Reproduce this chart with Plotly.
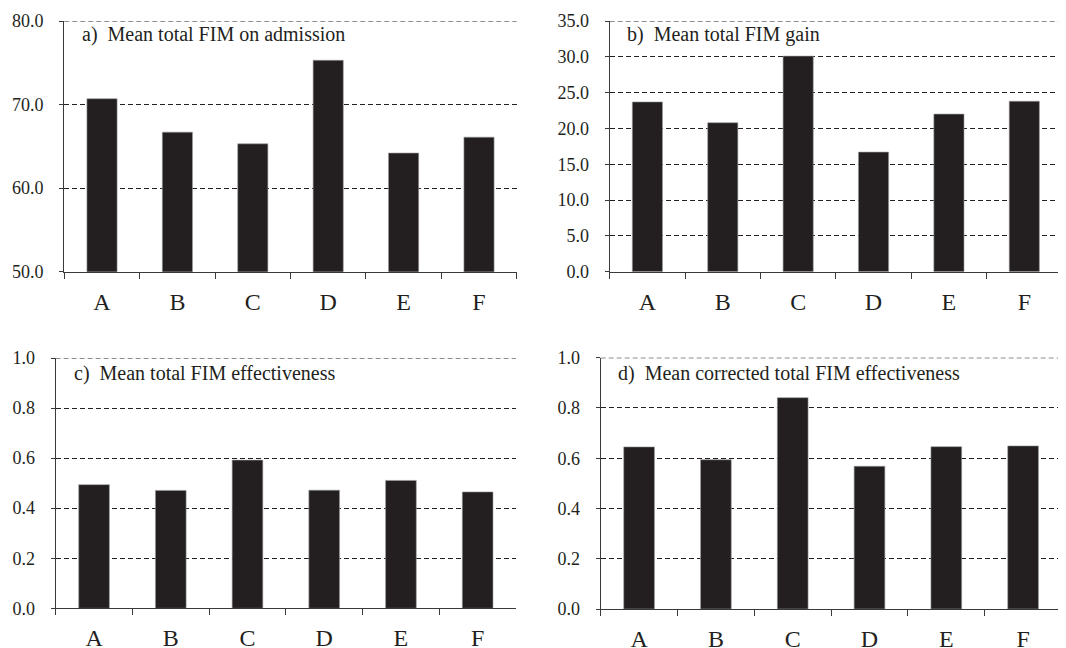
import plotly.graph_objects as go

categories = ["A", "B", "C", "D", "E", "F"]
fim_admission = [70.7, 66.7, 65.3, 75.3, 64.2, 66.1]
fim_gain = [23.7, 20.8, 30.1, 16.7, 22.0, 23.8]
fim_effectiveness = [0.494, 0.471, 0.592, 0.472, 0.511, 0.465]
fim_corrected_effectiveness = [0.645, 0.594, 0.841, 0.568, 0.646, 0.649]

panel_titles = [
    "a)  Mean total FIM on admission",
    "b)  Mean total FIM gain",
    "c)  Mean total FIM effectiveness",
    "d)  Mean corrected total FIM effectiveness",
]
y_ranges = [[50, 80], [0, 35], [0, 1.0], [0, 1.0]]
y_dticks = [10, 5, 0.2, 0.2]
y_formats = [".1f", ".1f", ".1f", ".1f"]

# The page body has an 8px margin: compensate so the figure fills the viewport.
OFF = 8
W, H = 1066 - OFF, 648 - OFF
# pixel boxes in viewport coords: (x0, x1, ytop, ybottom)
boxes = [
    (64.3, 516.7, 21, 271.7),
    (609.7, 1062, 21, 271.7),
    (55.7, 516, 358, 608.3),
    (600.7, 1061.5, 357.7, 609),
]
label_pos = [(80, 34), (624.7, 34), (71.7, 373.3), (616.3, 373.3)]

series = [fim_admission, fim_gain, fim_effectiveness, fim_corrected_effectiveness]
bar_color = "#231f20"
FONT = "Liberation Serif"


def px_x(v):
    return (v - OFF) / W


def px_y(v):
    return 1 - (v - OFF) / H


fig = go.Figure()
layout = dict(
    width=W, height=H,
    margin=dict(l=0, r=0, t=0, b=0, pad=0, autoexpand=False),
    paper_bgcolor="white", plot_bgcolor="white",
    showlegend=False,
    bargap=0.6,
    font=dict(family=FONT, color="#231f20"),
    annotations=[],
    shapes=[],
)

for i, vals in enumerate(series):
    n = i + 1
    xa = "x" if n == 1 else f"x{n}"
    ya = "y" if n == 1 else f"y{n}"
    fig.add_trace(go.Bar(
        x=categories, y=vals, xaxis=xa, yaxis=ya,
        marker=dict(color=bar_color, line=dict(color="#9a9a9a", width=0.6)),
        width=0.4,
    ))
    x0, x1, yt, yb = boxes[i]
    xkey = "xaxis" if n == 1 else f"xaxis{n}"
    ykey = "yaxis" if n == 1 else f"yaxis{n}"
    layout[xkey] = dict(
        domain=[px_x(x0), min(1.0, px_x(x1))],
        anchor=ya,
        type="category",
        range=[-0.5, 5.5],
        automargin=False,
        showline=True, linecolor="#3a3a3a", linewidth=1.3,
        ticks="outside", tickson="boundaries", ticklen=6, tickwidth=1.2,
        tickcolor="#3a3a3a",
        showgrid=False,
        tickfont=dict(family=FONT, size=24, color="#231f20"),
        ticklabelstandoff=8,
    )
    layout[ykey] = dict(
        domain=[px_y(yb), px_y(yt)],
        anchor=xa,
        range=y_ranges[i],
        dtick=y_dticks[i],
        tick0=y_ranges[i][0],
        tickformat=y_formats[i],
        automargin=False,
        showline=True, linecolor="#3a3a3a", linewidth=1.3,
        ticks="outside", ticklen=4, tickwidth=1.2, tickcolor="#3a3a3a",
        showgrid=True, gridcolor="#231f20", gridwidth=1, griddash="5px,3px",
        zeroline=False,
        tickfont=dict(family=FONT, size=18, color="#231f20"),
        ticklabelstandoff=12,
    )
    # top grid line at the range maximum (plotly omits grid lines on the edge)
    layout["shapes"].append(dict(
        type="line", xref=f"{xa} domain", yref=ya,
        x0=0, x1=1, y0=y_ranges[i][1], y1=y_ranges[i][1],
        line=dict(color="#231f20", width=1.2, dash="5px,3px"),
        layer="below",
    ))
    lx, ly = label_pos[i]
    layout["annotations"].append(dict(
        text=panel_titles[i], xref="paper", yref="paper",
        x=px_x(lx), y=px_y(ly), xanchor="left", yanchor="middle",
        showarrow=False, font=dict(family=FONT, size=20, color="#231f20"),
    ))

fig.update_layout(**layout)
fig.write_html("out.html")
